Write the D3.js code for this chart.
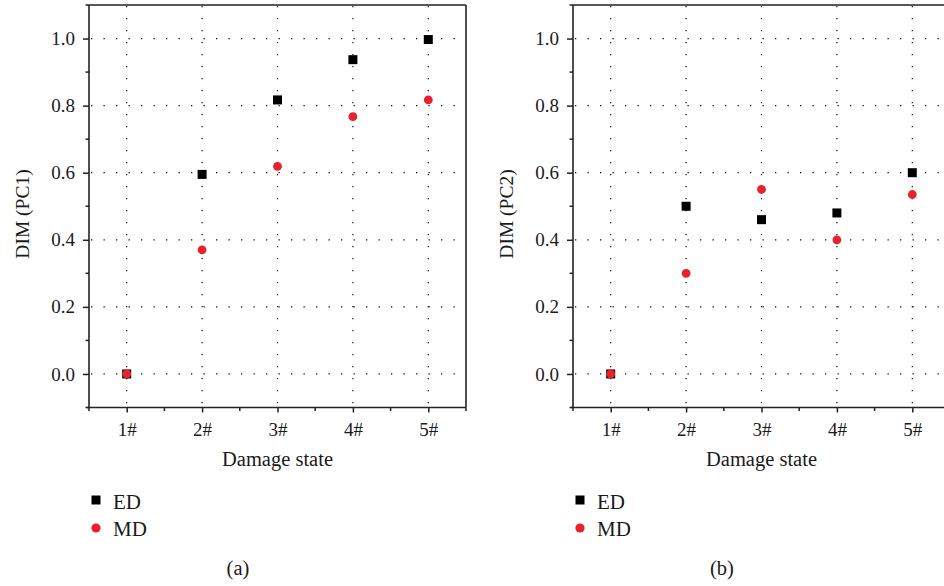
<!DOCTYPE html>
<html>
<head>
<meta charset="utf-8">
<script src="https://cdn.jsdelivr.net/npm/d3@7"></script>
<style>
  html, body { margin: 0; padding: 0; background: #fff; }
  svg { display: block; }
  text { font-family: "Liberation Serif", "Times New Roman", serif; fill: #1a1a1a; }
</style>
</head>
<body>
<svg id="chart" width="944" height="586"></svg>
<script>
const categories = ["1#", "2#", "3#", "4#", "5#"];
const yTicks = [0.0, 0.2, 0.4, 0.6, 0.8, 1.0];
const edPC1 = [0.0, 0.595, 0.817, 0.937, 0.997];
const mdPC1 = [0.0, 0.370, 0.619, 0.767, 0.817];
const edPC2 = [0.0, 0.50, 0.46, 0.48, 0.60];
const mdPC2 = [0.0, 0.30, 0.55, 0.40, 0.535];
const seriesNames = ["ED", "MD"];
const seriesColors = ["#000000", "#e8222a"];
const panelLabels = ["DIM (PC1)", "DIM (PC2)"];
const captions = ["(a)", "(b)"];

const svg = d3.select("#chart");

const panels = [
  { left: 89, right: 466, ed: edPC1, md: mdPC1, ylab: panelLabels[0], cap: captions[0] },
  { left: 573, right: 950, ed: edPC2, md: mdPC2, ylab: panelLabels[1], cap: captions[1] }
];
const plotTop = 5, plotBottom = 407.5;

panels.forEach(p => {
  const g = svg.append("g");
  const x = d3.scaleLinear().domain([0.5, 5.5]).range([p.left, p.right]);
  const y = d3.scaleLinear().domain([-0.1, 1.1]).range([plotBottom, plotTop]);

  // grid (dotted)
  const gridG = g.append("g");
  yTicks.forEach(v => {
    gridG.append("line")
      .attr("x1", p.left + 2).attr("x2", p.right)
      .attr("y1", y(v)).attr("y2", y(v))
      .attr("stroke", "#111").attr("stroke-width", 1.2)
      .attr("stroke-dasharray", "1.3,11.2");
  });
  categories.forEach((c, i) => {
    gridG.append("line")
      .attr("x1", x(i + 1)).attr("x2", x(i + 1))
      .attr("y1", plotTop + 1).attr("y2", plotBottom - 1)
      .attr("stroke", "#111").attr("stroke-width", 1.2)
      .attr("stroke-dasharray", "1.3,10.7");
  });

  // frame top and right
  g.append("line").attr("x1", p.left).attr("x2", p.right).attr("y1", plotTop).attr("y2", plotTop)
    .attr("stroke", "#222").attr("stroke-width", 1.6);
  g.append("line").attr("x1", p.right).attr("x2", p.right).attr("y1", plotTop).attr("y2", plotBottom)
    .attr("stroke", "#222").attr("stroke-width", 1.6);

  // y axis
  const yAxis = d3.axisLeft(y).tickValues(yTicks).tickSize(6).tickPadding(8)
    .tickFormat(d3.format(".1f"));
  const ya = g.append("g").attr("transform", `translate(${p.left},0)`).call(yAxis);
  ya.select(".domain").attr("stroke", "#222").attr("stroke-width", 1.6)
    .attr("d", `M0,${plotTop}V${plotBottom}`);
  ya.selectAll(".tick line").attr("stroke", "#222").attr("stroke-width", 1.5);
  ya.selectAll(".tick text").attr("font-size", 19).attr("font-family", "Liberation Serif").attr("fill", "#1a1a1a");
  const yMinor = [-0.1, 0.1, 0.3, 0.5, 0.7, 0.9, 1.1];
  g.append("g").selectAll("line").data(yMinor).join("line")
    .attr("x1", p.left - 3.5).attr("x2", p.left)
    .attr("y1", d => y(d)).attr("y2", d => y(d))
    .attr("stroke", "#222").attr("stroke-width", 1.5);

  // x axis
  const xAxis = d3.axisBottom(x).tickValues([1, 2, 3, 4, 5]).tickSize(5).tickPadding(10)
    .tickFormat((d, i) => categories[i]);
  const xa = g.append("g").attr("transform", `translate(0,${plotBottom})`).call(xAxis);
  xa.select(".domain").attr("stroke", "#222").attr("stroke-width", 1.6)
    .attr("d", `M${p.left - 2},0H${p.right}`);
  xa.selectAll(".tick line").attr("stroke", "#222").attr("stroke-width", 1.5);
  xa.selectAll(".tick text").attr("font-size", 19).attr("font-family", "Liberation Serif").attr("fill", "#1a1a1a");
  const xMinor = [0.5, 1.5, 2.5, 3.5, 4.5, 5.5];
  g.append("g").selectAll("line").data(xMinor).join("line")
    .attr("x1", d => x(d)).attr("x2", d => x(d))
    .attr("y1", plotBottom).attr("y2", plotBottom + 3.5)
    .attr("stroke", "#222").attr("stroke-width", 1.5);

  // titles
  g.append("text").attr("x", x(3)).attr("y", 466)
    .attr("text-anchor", "middle").attr("font-size", 20.5)
    .text("Damage state");
  g.append("text")
    .attr("transform", `translate(${p.left - 60},214) rotate(-90)`)
    .attr("text-anchor", "middle").attr("font-size", 19.5)
    .text(p.ylab);

  // points: ED squares then MD circles
  const sq = 9;
  g.append("g").selectAll("rect").data(p.ed).join("rect")
    .attr("x", (d, i) => x(i + 1) - sq / 2).attr("y", d => y(d) - sq / 2)
    .attr("width", sq).attr("height", sq).attr("fill", seriesColors[0]);
  g.append("g").selectAll("circle").data(p.md).join("circle")
    .attr("cx", (d, i) => x(i + 1)).attr("cy", d => y(d))
    .attr("r", 4.4).attr("fill", seriesColors[1]);

  // legend
  const lx = p.left + 7;
  g.append("rect").attr("x", lx - 4.5).attr("y", 500 - 4.5).attr("width", sq).attr("height", sq)
    .attr("fill", seriesColors[0]);
  g.append("circle").attr("cx", lx).attr("cy", 528).attr("r", 4.6).attr("fill", seriesColors[1]);
  g.append("text").attr("x", lx + 17).attr("y", 509).attr("font-size", 21).text(seriesNames[0]);
  g.append("text").attr("x", lx + 17).attr("y", 536).attr("font-size", 21).text(seriesNames[1]);

  // caption
  g.append("text").attr("x", p.left + 149).attr("y", 575).attr("text-anchor", "middle")
    .attr("font-size", 20.5).text(p.cap);
});
</script>
</body>
</html>
